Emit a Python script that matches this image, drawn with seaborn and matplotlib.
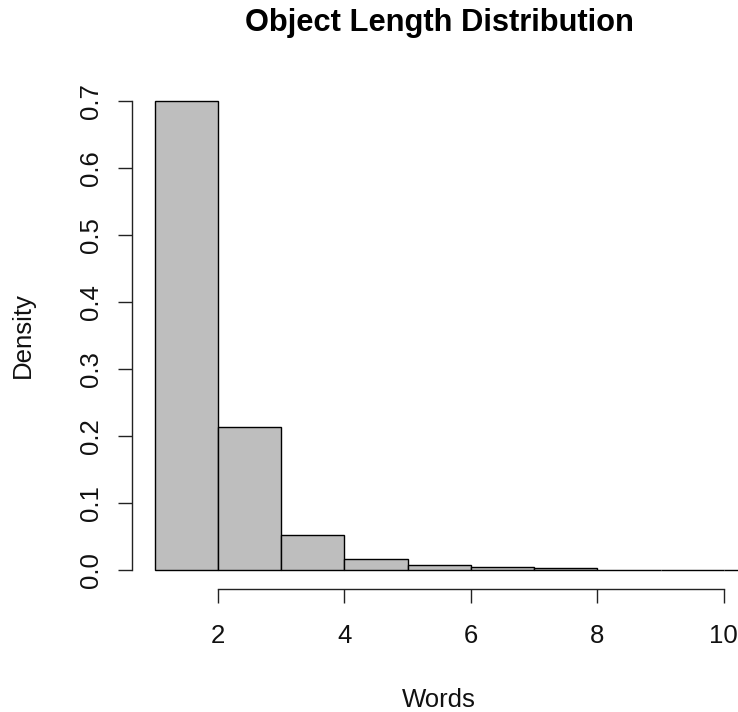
import numpy as np
import pandas as pd
import matplotlib
matplotlib.use("Agg")
import matplotlib.pyplot as plt
import seaborn as sns

# Data (density per 1-word bin)
bin_edges = [1, 2, 3, 4, 5, 6, 7, 8, 9, 10, 11, 12]
density = [0.700, 0.214, 0.053, 0.017, 0.0075, 0.005, 0.0025, 0.0006, 0.0003, 0.0002, 0.0001]
x_ticks = [2, 4, 6, 8, 10]
y_ticks = [0.0, 0.1, 0.2, 0.3, 0.4, 0.5, 0.6, 0.7]
title = "Object Length Distribution"
x_label = "Words"
y_label = "Density"

sns.set_style("white")
plt.rcParams['font.family'] = ['Liberation Sans', 'DejaVu Sans']

fig = plt.figure(figsize=(7.38, 7.12), dpi=100)
W, H = 738, 712
left_px, right_px, top_px, bottom_px = 132, 746.6, 82.0, 588.8
ax = fig.add_axes([left_px / W, (H - bottom_px) / H,
                   (right_px - left_px) / W, (bottom_px - top_px) / H])

df = pd.DataFrame({
    "centre": [(a + b) / 2 for a, b in zip(bin_edges[:-1], bin_edges[1:])],
    "density": density,
})
sns.histplot(data=df, x="centre", weights="density", bins=bin_edges,
             stat="count", color="#BEBEBE", edgecolor="black", linewidth=1.0,
             alpha=1.0, ax=ax)

ax.set_xlim(0.64, 10.36)
ax.set_ylim(-0.028, 0.728)

for s in ["top", "right"]:
    ax.spines[s].set_visible(False)
ax.spines["left"].set_bounds(0, 0.7)
ax.spines["bottom"].set_bounds(2, 10)
for s in ["left", "bottom"]:
    ax.spines[s].set_color("#222222")
    ax.spines[s].set_linewidth(1.0)

ax.set_xticks(x_ticks)
ax.set_xticklabels([str(v) for v in x_ticks], fontsize=18.5)
ax.set_yticks(y_ticks)
ax.set_yticklabels([f"{v:.1f}" for v in y_ticks], fontsize=18.5,
                   rotation=90, va="center")
ax.tick_params(axis="both", direction="out", length=10.2, width=1.0,
               color="#222222", labelcolor="#111111")
ax.tick_params(axis="y", pad=11, left=True)
ax.tick_params(axis="x", pad=15, bottom=True)

ax.set_xlabel(x_label, fontsize=18.5, color="#111111")
ax.xaxis.label.set_va("baseline")
ax.xaxis.set_label_coords(0.5, (bottom_px - 707) / (bottom_px - top_px))
ax.set_ylabel(y_label, fontsize=18.5, color="#111111")
ax.yaxis.label.set_va("center")
ax.yaxis.set_label_coords((23 - left_px) / (right_px - left_px), 0.5)

fig.text((left_px + right_px) / 2 / W, 1 - 31.5 / H, title,
         ha="center", va="baseline", fontsize=22.2, fontweight="bold",
         color="black")

fig.savefig("out.png", dpi=100)
